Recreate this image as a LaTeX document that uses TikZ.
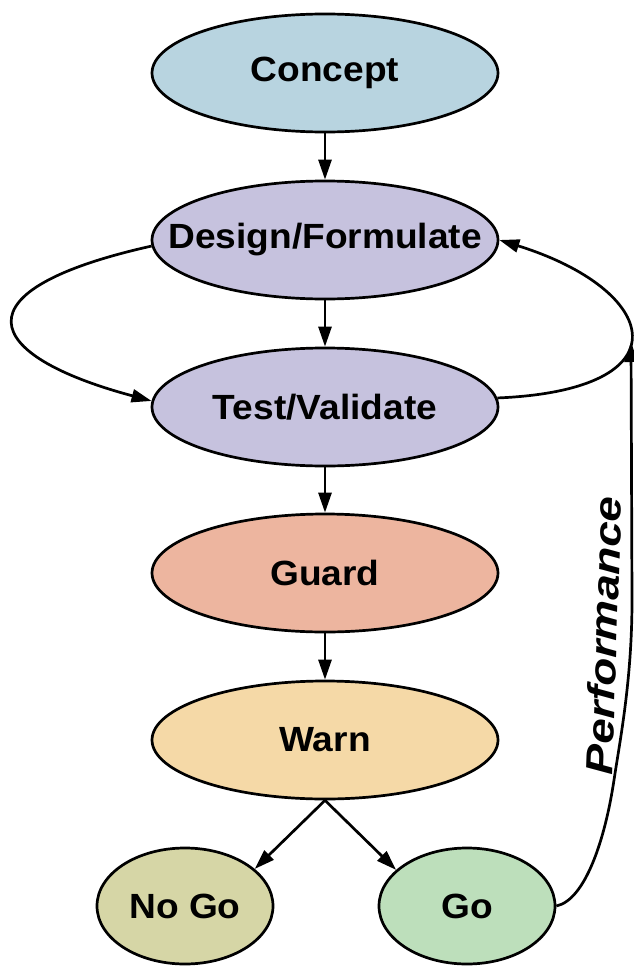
\documentclass[tikz,border=0pt]{standalone}
\usepackage{fontspec}
\setmainfont{Liberation Sans}[FakeStretch=1.06]
\newfontfamily\perffont{Liberation Sans}[FakeStretch=1.2]
\usetikzlibrary{arrows.meta,shapes.geometric}
\definecolor{cConcept}{HTML}{B8D4E0}
\definecolor{cDesign}{HTML}{C6C2DE}
\definecolor{cGuard}{HTML}{EDB59F}
\definecolor{cWarn}{HTML}{F5D9A7}
\definecolor{cNoGo}{HTML}{D6D6A6}
\definecolor{cGo}{HTML}{BDDFBB}
\newcommand{\lbl}[1]{\makebox[0pt][c]{#1}}
\tikzset{
  stage/.style={ellipse, draw=black, line width=2.7pt, inner sep=0pt,
    minimum width=346pt, minimum height=118pt,
    font=\fontsize{35}{42}\selectfont\bfseries},
  small/.style={stage, minimum width=176pt, minimum height=116pt},
  conn/.style={line width=2.7pt, -{Triangle[length=20pt,width=13pt]}}
}
\begin{document}
\begin{tikzpicture}[x=1pt,y=-1pt]
\useasboundingbox (0,0) rectangle (634,966);
\node[stage, fill=cConcept] (c) at (325,73) {\lbl{Concept}};
\node[stage, fill=cDesign] (d) at (325,240) {\lbl{Design/Formulate}};
\node[stage, fill=cDesign] (t) at (325,407) {\lbl{Test/Validate}};
\node[stage, fill=cGuard] (g) at (325,573) {\lbl{Guard}};
\node[stage, fill=cWarn] (w) at (325,740) {\lbl{Warn}};
\node[small, fill=cNoGo] (ng) at (185,906) {\lbl{No Go}};
\node[small, fill=cGo] (go) at (467,906) {\lbl{Go}};
\coordinate (perfend) at (631,342);

\draw[conn] (c) -- (d);
\draw[conn] (d) -- (t);
\draw[conn] (t) -- (g);
\draw[conn] (g) -- (w);
\draw[conn] (w.south) -- (ng.28);
\draw[conn] (w.south) -- (go.153);

\draw[conn] (d.182) .. controls (-45,290) and (-20,355) .. (t.178);
\draw[conn] (t.3) .. controls (688,390) and (660,290) .. (d.0);
\draw[conn] (go.east) .. controls (585,900) and (605,840) .. (614,780)
  .. controls (620,740) and (632,680) .. (632,600) -- (perfend);
\node[rotate=88, anchor=base, font=\perffont\fontsize{38}{44}\selectfont\bfseries\itshape] (perf) at (617,636) {Performance};
\end{tikzpicture}
\end{document}
